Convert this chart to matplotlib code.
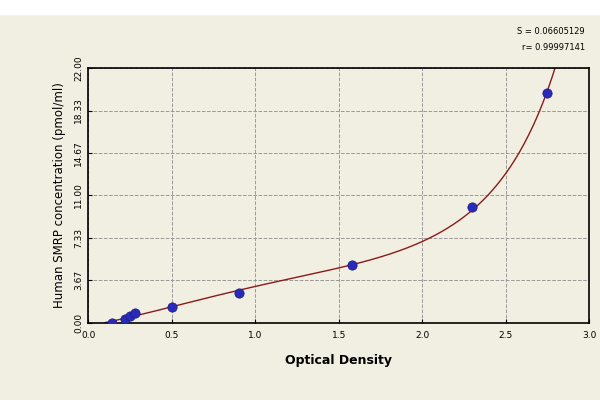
import numpy as np
import matplotlib
matplotlib.use("Agg")
import matplotlib.pyplot as plt

od = [0.14, 0.22, 0.25, 0.28, 0.50, 0.90, 1.58, 2.30, 2.75]
conc = [0.0, 0.3, 0.6, 0.85, 1.4, 2.6, 5.0, 10.0, 19.8]
yticks = [0.00, 3.67, 7.33, 11.00, 14.67, 18.33, 22.00]
xticks = [0.0, 0.5, 1.0, 1.5, 2.0, 2.5, 3.0]

bg = "#f1efe1"
fig = plt.figure(figsize=(6, 4), dpi=100, facecolor=bg)
fig.patches.append(plt.Rectangle((0, 0.965), 1, 0.035, transform=fig.transFigure, color="white", zorder=-1))
ax = fig.add_axes([0.147, 0.193, 0.835, 0.637], facecolor=bg)

x = np.array(od); y = np.array(conc)
c = np.polyfit(x, np.log(y + 1.5), 3)
xs = np.linspace(0.1, 2.85, 300)
ax.plot(xs, np.exp(np.polyval(c, xs)) - 1.5, color="#8b1a1a", lw=1)
ax.scatter(od, conc, s=45, color="#2a2ab8", zorder=3, edgecolors="#1a1a80", linewidths=0.5)

ax.set_xlim(0, 3.0); ax.set_ylim(0, 22)
ax.set_xticks(xticks); ax.set_yticks(yticks)
ax.set_xticklabels([f"{v:.1f}" for v in xticks], fontsize=6.5)
ax.set_yticklabels([f"{v:.2f}" for v in yticks], fontsize=6.5, rotation=90, va="center")
ax.tick_params(axis="x", pad=6)
ax.grid(True, ls="--", color="#999999", lw=0.7)
ax.tick_params(direction="in", length=3)
for s in ax.spines.values():
    s.set_linewidth(1.2)
ax.set_xlabel("Optical Density", fontsize=9, fontweight="bold", labelpad=10)
ax.set_ylabel("Human SMRP concentration (pmol/ml)", fontsize=8.5, labelpad=6)
fig.text(0.975, 0.915, "S = 0.06605129", ha="right", fontsize=6)
fig.text(0.975, 0.875, "r= 0.99997141", ha="right", fontsize=6)
fig.savefig("out.png", dpi=100, facecolor=bg)
